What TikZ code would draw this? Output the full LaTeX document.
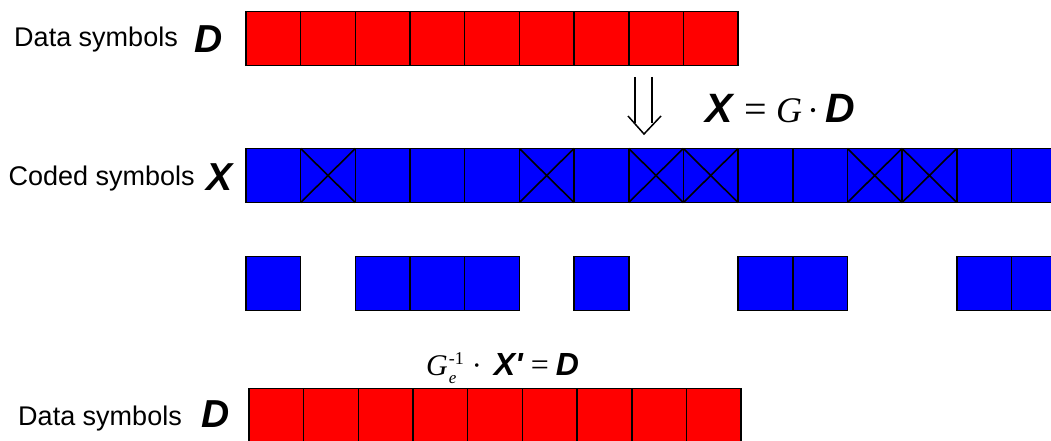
\documentclass[tikz,border=0pt]{standalone}
\usepackage{fontspec}
\setmainfont{Liberation Sans}
\newfontfamily\tms{Liberation Serif}
\newcommand{\bsym}{\bfseries\itshape}

\begin{document}
\begin{tikzpicture}[
  x=1pt, y=-1pt,
  cell/.style={draw=black, line width=1.6pt, minimum width=54.67pt,
               minimum height=54pt, inner sep=0pt, outer sep=0pt},
  dat/.style={cell, fill=red},
  cod/.style={cell, fill=blue},
  lost/.style={draw=black, line width=1.6pt},
  lbl/.style={font=\fontsize{27}{30}\selectfont, inner sep=0pt},
  sym/.style={font=\fontsize{39}{42}\selectfont\bsym, inner sep=0pt},
  eqn/.style={inner sep=0pt},
]
\useasboundingbox (0,0) rectangle (1051,441);

% ============ data symbols D ============
\node[lbl, anchor=base east] (dlab) at (178,47) {Data symbols};
\node[sym, anchor=base west] (dsym) at (194,53) {D};
\foreach \i in {1,...,9}
  \node[dat] (d\i) at ({246+54.67*(\i-0.5)}, 38.5) {};

% encoding step
\draw[line width=1.5pt] (635,77) -- (635,123.5) (652,77) -- (652,123.5);
\draw[line width=1.5pt] (628,116) -- (644,134) -- (661,116);
\node[eqn, anchor=base west] (enc) at (705,122)
  {{\fontsize{41}{44}\selectfont\bsym X}\hspace{12pt}%
   {\tms\fontsize{40}{44}\selectfont =\hspace{9pt}\fontsize{36}{40}\selectfont\itshape G\hspace{5pt}\upshape ·\hspace{6pt}}%
   {\fontsize{41}{44}\selectfont\bsym D}};

% ============ coded symbols X ============
\node[lbl, anchor=base east] (xlab) at (195,185) {Coded symbols};
\node[sym, anchor=base west] (xsym) at (206,190) {X};
\foreach \i in {1,...,15}
  \node[cod] (x\i) at ({246+54.67*(\i-0.5)}, 175.5) {};
% erased symbols
\foreach \i in {2,6,8,9,12,13}
  \draw[lost] (x\i.north west) -- (x\i.south east)
              (x\i.north east) -- (x\i.south west);

% ============ received symbols X' ============
\foreach \i in {1,3,4,5,7,10,11,14,15}
  \node[cod] (r\i) at ({246+54.67*(\i-0.5)}, 283.5) {};

% decoding step
\node[eqn, anchor=base west] (dec) at (426,375)
  {{\tms\fontsize{30}{34}\selectfont\itshape G}\hspace{1pt}%
   \makebox[0pt][l]{\raisebox{-8pt}{\tms\fontsize{17}{18}\selectfont\itshape e}}%
   \raisebox{11pt}{\tms\fontsize{18}{20}\selectfont -1}\hspace{8pt}%
   {\tms\fontsize{30}{34}\selectfont ·}\hspace{12pt}%
   {\fontsize{32}{34}\selectfont\bsym X\textquotesingle}\hspace{8pt}%
   {\tms\fontsize{32}{34}\selectfont =}\hspace{7pt}%
   {\fontsize{32}{34}\selectfont\bsym D}};

% ============ recovered data symbols D ============
\node[lbl, anchor=base east] (blab) at (182,425) {Data symbols};
\node[sym, anchor=base west] (bsym) at (201,427) {D};
\foreach \i in {1,...,9}
  \node[dat] (b\i) at ({249+54.67*(\i-0.5)}, 415.5) {};

\end{tikzpicture}
\end{document}
